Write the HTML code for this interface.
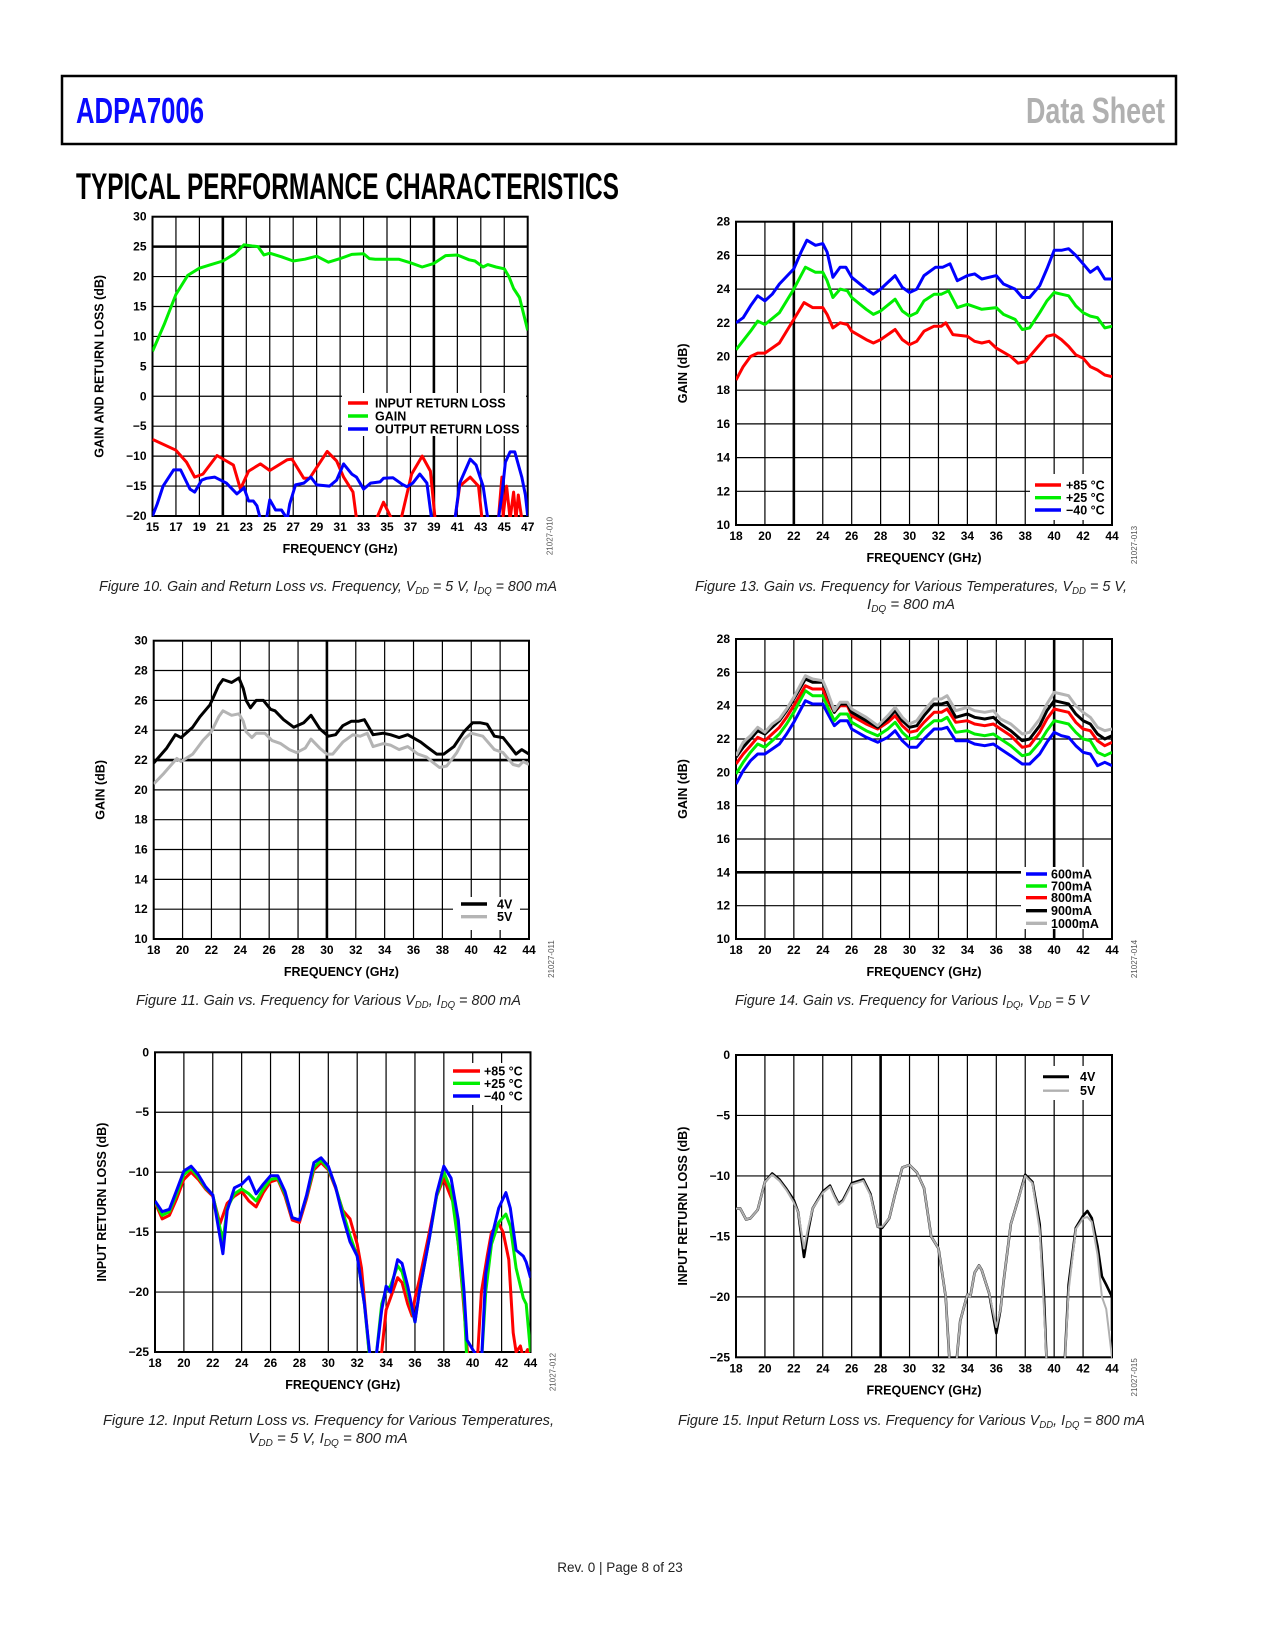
<!DOCTYPE html>
<html><head><meta charset="utf-8"><title>ADPA7006 Typical Performance Characteristics</title>
<style>
html,body{margin:0;padding:0;background:#fff;}
svg{display:block;font-family:"Liberation Sans",sans-serif;}
.tk{font-size:12px;font-weight:bold;fill:#000;}
.at{font-size:12.5px;font-weight:bold;fill:#000;}
.lg{font-size:12.5px;font-weight:bold;fill:#000;}
.cap{font-size:15px;font-style:italic;fill:#222;}
.fid{font-size:8px;fill:#555;}
</style></head>
<body>
<svg id="page" width="1275" height="1650" viewBox="0 0 1275 1650">
<rect x="62" y="76" width="1114" height="68" fill="none" stroke="#000" stroke-width="2.5"/>
<text x="76" y="123" font-size="36" font-weight="bold" fill="#0a0aff" textLength="128" lengthAdjust="spacingAndGlyphs">ADPA7006</text>
<text x="1026" y="123" font-size="36" font-weight="bold" fill="#b0b0b0" textLength="139" lengthAdjust="spacingAndGlyphs">Data Sheet</text>
<text x="76" y="199" font-size="37" font-weight="bold" fill="#000" textLength="543" lengthAdjust="spacingAndGlyphs">TYPICAL PERFORMANCE CHARACTERISTICS</text>

<text class="cap" x="99" y="591" textLength="458" lengthAdjust="spacingAndGlyphs">Figure 10. Gain and Return Loss vs. Frequency, V<tspan font-size="10" dy="3">DD</tspan><tspan dy="-3"> = 5 V, I</tspan><tspan font-size="10" dy="3">DQ</tspan><tspan dy="-3"> = 800 mA</tspan></text>
<text class="cap" x="695" y="591" textLength="432" lengthAdjust="spacingAndGlyphs">Figure 13. Gain vs. Frequency for Various Temperatures, V<tspan font-size="10" dy="3">DD</tspan><tspan dy="-3"> = 5 V,</tspan></text>
<text class="cap" x="911" y="609" text-anchor="middle">I<tspan font-size="10" dy="3">DQ</tspan><tspan dy="-3"> = 800 mA</tspan></text>
<text class="cap" x="136" y="1005" textLength="385" lengthAdjust="spacingAndGlyphs">Figure 11. Gain vs. Frequency for Various V<tspan font-size="10" dy="3">DD</tspan><tspan dy="-3">, I</tspan><tspan font-size="10" dy="3">DQ</tspan><tspan dy="-3"> = 800 mA</tspan></text>
<text class="cap" x="735" y="1005" textLength="354" lengthAdjust="spacingAndGlyphs">Figure 14. Gain vs. Frequency for Various I<tspan font-size="10" dy="3">DQ</tspan><tspan dy="-3">, V</tspan><tspan font-size="10" dy="3">DD</tspan><tspan dy="-3"> = 5 V</tspan></text>
<text class="cap" x="103" y="1425" textLength="451" lengthAdjust="spacingAndGlyphs">Figure 12. Input Return Loss vs. Frequency for Various Temperatures,</text>
<text class="cap" x="328" y="1443" text-anchor="middle">V<tspan font-size="10" dy="3">DD</tspan><tspan dy="-3"> = 5 V, I</tspan><tspan font-size="10" dy="3">DQ</tspan><tspan dy="-3"> = 800 mA</tspan></text>
<text class="cap" x="678" y="1425" textLength="467" lengthAdjust="spacingAndGlyphs">Figure 15. Input Return Loss vs. Frequency for Various V<tspan font-size="10" dy="3">DD</tspan><tspan dy="-3">, I</tspan><tspan font-size="10" dy="3">DQ</tspan><tspan dy="-3"> = 800 mA</tspan></text>
<text x="620" y="1572" font-size="13.5" fill="#222" text-anchor="middle">Rev. 0 | Page 8 of 23</text>
</svg>
<script>
// ---------- Figure 10 data ----------
const xt10 = [15,17,19,21,23,25,27,29,31,33,35,37,39,41,43,45,47];
const yt10 = [-20,-15,-10,-5,0,5,10,15,20,25,30];
const f10Gain = [15,16,17,18,19,20,21,22,22.8,23.5,24,24.5,25,26,27,28,29,30,31,32,33,33.5,34,35,36,37,38,39,40,41,42,42.5,43.2,43.6,44.3,45,45.4,45.8,46.3,47];
const v10Gain = [7.5,12,17,20.2,21.4,22,22.6,23.8,25.3,25.1,25,23.6,23.9,23.3,22.6,22.9,23.4,22.4,23,23.7,23.8,23,22.9,22.9,22.9,22.3,21.6,22.2,23.5,23.6,22.8,22.6,21.6,22,21.6,21.3,20,18,16.5,11];
const f10In = [15,17,17.9,18.6,19.3,20.5,21.9,22.5,23.2,24.2,25,26.5,26.9,27.9,28.4,29.9,30.7,31.3,32.1,32.4,32.7,33.8,34.1,34.7,35.4,36.2,37.1,38,38.7,39.1,39.4,40.5,40.8,41.2,42.1,42.8,43.1,43.4,44.2,44.5,44.8,44.9,45.2,45.5,45.8,46,46.2,46.5,46.8];
const v10In = [-7.2,-9,-11,-13.5,-13,-9.9,-11.5,-15.5,-12.5,-11.3,-12.4,-10.6,-10.5,-13.7,-13.7,-9.2,-10.8,-13.5,-16,-20.5,-23,-23,-20.5,-17.7,-20.5,-20.5,-13,-10,-12.5,-20.5,-23,-23,-20.5,-15,-13.5,-15,-20.5,-23,-23,-20.5,-13.5,-20,-15,-20.5,-16,-20.5,-16.5,-20.5,-23];
const f10Out = [15,15.4,15.9,16.8,17.4,18.2,18.6,19.2,19.6,20.3,21.3,22.2,22.8,23.2,23.6,23.9,24.2,24.5,25,25.5,26,26.5,26.7,27.2,27.9,28.5,29,30.1,30.7,31.3,32,32.4,33,33.6,34.4,34.7,35.5,36.3,36.7,37.2,37.8,38.4,38.8,39.1,40.5,40.8,41.2,42.1,42.6,43.2,43.6,43.9,44.2,44.5,44.8,45.1,45.5,45.9,46.5,46.8,47];
const v10Out = [-20,-18,-15,-12.3,-12.3,-15.5,-16,-14,-13.7,-13.5,-14.5,-16.3,-15.3,-17.5,-17.5,-18.3,-20.5,-23,-17.3,-19,-19,-20.5,-18,-14.8,-14.5,-13.5,-14.8,-15,-14,-11.3,-13,-13.5,-15.5,-14.5,-14.3,-13.7,-13.6,-14.7,-15.1,-14.5,-13,-14.5,-20.5,-23,-23,-20.5,-14.5,-10.5,-11.5,-15,-20.5,-23,-23,-20.5,-16.5,-11,-9.3,-9.3,-13.5,-16.5,-20];

// ---------- Figure 13 data ----------
const xt13 = [18,20,22,24,26,28,30,32,34,36,38,40,42,44];
const yt13 = [10,12,14,16,18,20,22,24,26,28];
const f13Blue = [18,18.5,19,19.5,20,20.5,21,22,22.5,22.9,23.5,24,24.3,24.7,25.2,25.6,26,27,27.5,28,28.5,29,29.5,30,30.5,31,31.8,32.3,32.8,33.3,34,34.5,35,36,36.5,37.3,37.8,38.3,39,39.5,40,40.5,41,41.5,42,42.5,43,43.5,44];
const v13Blue = [22,22.3,23,23.6,23.3,23.7,24.3,25.2,26.2,26.9,26.6,26.7,26.2,24.7,25.3,25.3,24.7,24,23.7,24,24.4,24.8,24.1,23.8,24,24.8,25.3,25.3,25.5,24.5,24.8,24.9,24.6,24.8,24.3,24,23.5,23.5,24.2,25.2,26.3,26.3,26.4,26,25.5,25,25.3,24.6,24.6];
const f13Green = [18,19,19.5,20,21,22,22.8,23.5,24,24.3,24.7,25.2,25.7,26,27,27.5,28,29,29.5,30,30.5,31,31.7,32.2,32.7,33.3,34,35,36,36.5,37.3,37.8,38.3,39,39.5,40,40.5,41,41.5,42,42.5,43,43.5,44];
const v13Green = [20.4,21.5,22.1,21.9,22.6,24,25.3,25,25,24.5,23.5,24,23.9,23.5,22.8,22.5,22.7,23.4,22.7,22.4,22.6,23.3,23.7,23.7,23.9,22.9,23.1,22.8,22.9,22.5,22.2,21.6,21.7,22.6,23.3,23.8,23.7,23.6,23,22.6,22.4,22.3,21.7,21.8];
const f13Red = [18,18.5,19,19.5,20,21,22,22.7,23.3,24,24.3,24.7,25.2,25.7,26,27,27.5,28,29,29.5,30,30.5,31,31.7,32.2,32.5,33,34,34.5,35,35.5,36,37,37.5,38,39,39.5,40,40.5,41,41.5,42,42.5,43,43.5,44];
const v13Red = [18.6,19.4,20,20.2,20.2,20.8,22.2,23.2,22.9,22.9,22.5,21.7,22,21.9,21.5,21,20.8,21,21.6,21,20.7,20.9,21.5,21.8,21.8,22,21.3,21.2,20.9,20.8,20.9,20.5,20,19.6,19.7,20.7,21.2,21.3,21,20.6,20.1,19.9,19.4,19.2,18.9,18.8];

// ---------- Figure 11 data ----------
const xt11 = [18,20,22,24,26,28,30,32,34,36,38,40,42,44];
const yt11 = [10,12,14,16,18,20,22,24,26,28,30];
const f11Black = [18,18.9,19.5,19.9,20.7,21.2,21.9,22.5,22.8,23.4,23.9,24.2,24.4,24.7,25.1,25.6,26.1,26.4,27,27.7,28.4,28.9,29.5,30.1,30.6,31.1,31.7,32.2,32.6,33.2,33.9,34.4,35,35.6,36.5,36.9,37.6,38.1,38.8,39.5,40.1,40.6,41.1,41.6,42.2,42.7,43.1,43.5,44];
const v11Black = [21.8,22.8,23.7,23.5,24.2,24.9,25.7,27,27.4,27.2,27.5,26.8,26,25.5,26,26,25.4,25.3,24.7,24.2,24.5,25,24.1,23.6,23.7,24.3,24.6,24.6,24.7,23.7,23.8,23.7,23.5,23.7,23.2,22.9,22.4,22.4,22.9,23.9,24.5,24.5,24.4,23.6,23.5,22.9,22.4,22.7,22.4];
const f11Gray = [18,18.7,19.6,19.9,20.7,21.4,22,22.5,22.8,23.4,23.9,24.2,24.4,24.8,25.1,25.7,26.2,26.8,27.4,27.9,28.5,28.9,29.5,30,30.4,31.1,31.8,32.3,32.8,33.2,33.9,34.4,35,35.6,36.3,36.9,37.4,37.8,38.3,39,39.5,40,40.8,41.6,42.2,42.9,43.3,43.6,44];
const v11Gray = [20.4,21.1,22.1,21.9,22.4,23.3,23.9,24.9,25.3,25,25.1,24.6,23.9,23.5,23.8,23.8,23.3,23.1,22.7,22.5,22.8,23.4,22.8,22.4,22.4,23.2,23.7,23.6,23.8,22.9,23.1,23,22.7,22.9,22.4,22.2,21.8,21.5,21.6,22.5,23.4,23.8,23.6,22.7,22.5,21.7,21.6,21.9,21.7];

// ---------- Figure 14 data ----------
const xt14 = [18,20,22,24,26,28,30,32,34,36,38,40,42,44];
const yt14 = [10,12,14,16,18,20,22,24,26,28];
const f14 = [18,18.5,19,19.5,20,20.5,21,21.5,22,22.8,23.3,24,24.3,24.8,25.2,25.7,26,27,27.8,28.5,29,29.5,30,30.5,31,31.7,32.2,32.6,33.2,34,34.5,35.2,35.8,36.3,37,37.8,38.3,39,39.5,40,40.5,41,41.5,42,42.5,43,43.5,44];
const v14Blue = [19.3,20.1,20.7,21.1,21.1,21.4,21.7,22.3,23.0,24.3,24.1,24.1,23.6,22.8,23.1,23.1,22.6,22.1,21.8,22.1,22.5,21.9,21.5,21.5,22.0,22.6,22.6,22.7,21.9,21.9,21.7,21.6,21.7,21.4,21.0,20.5,20.5,21.1,21.8,22.4,22.2,22.1,21.6,21.2,21.1,20.4,20.6,20.4];
const v14Green = [19.9,20.6,21.2,21.7,21.5,21.9,22.3,22.9,23.6,24.9,24.6,24.6,24.0,23.1,23.5,23.5,23.0,22.5,22.2,22.6,23.0,22.4,22.0,22.1,22.6,23.1,23.1,23.3,22.4,22.5,22.3,22.2,22.3,22.0,21.6,21.0,21.1,21.8,22.5,23.1,23.0,22.9,22.4,22.0,21.9,21.2,21.0,21.2];
const v14Red = [20.5,21.1,21.6,22.1,21.9,22.3,22.7,23.3,24.0,25.2,25.0,25.0,24.4,23.6,24.0,24.0,23.4,22.9,22.6,23.0,23.4,22.8,22.4,22.5,23.0,23.6,23.6,23.8,23.0,23.1,22.9,22.8,22.9,22.6,22.2,21.5,21.6,22.4,23.2,23.8,23.7,23.6,23.0,22.6,22.5,21.9,21.6,21.8];
const v14Black = [20.9,21.5,22.0,22.5,22.3,22.7,23.1,23.7,24.4,25.6,25.4,25.4,24.8,23.6,24.1,24.1,23.6,23.1,22.7,23.2,23.7,23.1,22.7,22.8,23.4,24.1,24.1,24.2,23.3,23.5,23.3,23.2,23.3,22.9,22.5,21.9,22.0,22.8,23.7,24.3,24.2,24.1,23.5,23.1,22.9,22.3,22.0,22.2];
const v14Gray = [21.0,21.8,22.2,22.7,22.4,22.9,23.2,23.8,24.5,25.8,25.6,25.5,24.9,23.7,24.2,24.2,23.8,23.3,22.8,23.4,23.9,23.3,22.9,23.1,23.7,24.4,24.4,24.6,23.7,23.9,23.7,23.6,23.7,23.2,22.9,22.3,22.4,23.2,24.1,24.8,24.7,24.6,24.0,23.6,23.3,22.7,22.5,22.6];

// ---------- Figure 12 data ----------
const xt12 = [18,20,22,24,26,28,30,32,34,36,38,40,42,44];
const yt12 = [-25,-20,-15,-10,-5,0];
const f12Red = [18,18.5,19,19.5,20,20.5,21,21.5,22,22.5,23,23.5,24,24.5,25,25.5,26,26.5,27,27.5,28,28.5,29,29.5,30,30.5,31,31.5,32,32.3,32.6,32.9,33.4,33.7,34,34.3,34.8,35.1,35.5,35.8,36,36.3,37,37.5,38,38.3,38.7,39,39.3,39.7,40.3,40.6,41,41.3,41.8,42.1,42.5,42.8,43,43.3,43.5,43.8,44];
const v12Red = [-12.5,-13.9,-13.6,-12.2,-10.6,-10,-10.6,-11.4,-12,-14.3,-12.6,-12,-11.6,-12.4,-12.9,-11.7,-10.8,-10.6,-12,-14,-14.2,-12.2,-9.8,-9.2,-9.8,-11.3,-13.2,-13.9,-16,-18,-22,-26,-26,-25,-21.5,-20.5,-18.8,-19.2,-21,-22,-20.5,-19,-15,-12,-10.5,-11.5,-12.7,-16,-20,-26,-26,-20,-17,-15,-14.3,-15,-17.3,-23.4,-25,-24.5,-25.5,-24.8,-26];
const f12Green = [18,18.5,19,19.5,20,20.5,21,21.5,22,22.7,23,23.5,24,24.5,25,25.5,26,26.5,27,27.5,28,28.5,29,29.5,30,30.5,31,31.5,32,32.5,32.9,33.3,33.7,34,34.3,34.8,35.1,35.5,36,36.3,37,37.5,38,38.5,39,39.4,39.6,40.6,40.9,41.3,41.8,42.3,42.6,43,43.5,43.7,44];
const v12Green = [-12.4,-13.6,-13.3,-11.8,-10.2,-9.7,-10.4,-11.3,-11.9,-15.8,-13,-11.8,-11.4,-11.8,-12.4,-11.4,-10.6,-10.5,-11.8,-13.8,-14,-12,-9.6,-9,-9.7,-11.2,-13.3,-15.3,-17,-21,-26,-25.5,-21,-19.8,-19.5,-17.8,-18.3,-20,-22.5,-20,-15.5,-12,-10,-11.5,-16,-21,-26,-26,-20,-16,-14.2,-13.5,-14.5,-18,-20.5,-21,-25];
const f12Blue = [18,18.5,19,19.5,20,20.5,21,21.5,22,22.7,23,23.5,24,24.5,25,25.5,26,26.5,27,27.5,28,28.5,29,29.5,30,30.5,31,31.5,32,32.5,32.9,33.3,33.7,34,34.3,34.8,35.1,35.5,36,36.3,37,37.5,38,38.5,39,39.4,39.6,40.6,40.9,41.3,41.8,42.3,42.6,43,43.5,43.7,44];
const v12Blue = [-12.4,-13.3,-13.1,-11.5,-9.9,-9.5,-10.2,-11.2,-11.9,-16.8,-13.2,-11.3,-11,-10.4,-11.8,-11,-10.3,-10.3,-11.6,-13.8,-14,-11.9,-9.2,-8.8,-9.5,-11.2,-13.7,-15.8,-17,-21,-25.5,-25.5,-21.5,-19.5,-20,-17.3,-17.6,-19.5,-22.5,-20,-15.5,-11.8,-9.5,-10.5,-14,-20,-24,-26,-18.5,-15.5,-13,-11.7,-13,-16.5,-17,-17.5,-18.8];

// ---------- Figure 15 data ----------
const xt15 = [18,20,22,24,26,28,30,32,34,36,38,40,42,44];
const yt15 = [-25,-20,-15,-10,-5,0];
const f15 = [18,18.3,18.7,19,19.5,20,20.5,21,21.5,22,22.3,22.7,23,23.3,24,24.5,24.8,25.1,25.4,26,26.8,27.3,27.8,28.1,28.6,29,29.5,30,30.5,31,31.5,32,32.5,32.8,33.2,33.5,34,34.2,34.5,34.8,35,35.5,36,36.3,36.5,37,37.5,38,38.5,39,39.3,39.5,40.7,41,41.5,42,42.3,42.6,43,43.3,43.6,44,44.01];
const v15Black = [-12.7,-12.7,-13.6,-13.5,-12.8,-10.5,-9.8,-10.3,-11.1,-12,-13,-16.7,-14.5,-12.7,-11.3,-10.8,-11.6,-12.3,-12,-10.6,-10.3,-11.5,-14.2,-14.3,-13.5,-11.5,-9.3,-9.1,-9.7,-11,-15,-16,-20,-26,-26,-22,-19.8,-20,-18,-17.4,-17.8,-19.7,-23,-21,-18.8,-14,-12,-9.9,-10.5,-14,-20,-26,-26,-19,-14.3,-13.3,-12.9,-13.5,-15.8,-18.3,-19,-20,-22.8];
const v15Gray = [-12.7,-12.7,-13.6,-13.5,-12.8,-10.5,-9.9,-10.4,-11.2,-12.2,-13,-16,-14.2,-12.7,-11.4,-10.9,-11.7,-12.4,-12.1,-10.7,-10.4,-11.6,-14.2,-14.2,-13.5,-11.5,-9.3,-9.1,-9.7,-11,-15,-16,-20,-26,-26,-22,-19.8,-20,-18,-17.4,-17.8,-19.7,-22.5,-21,-18.8,-14,-12,-10,-10.6,-14.5,-21,-26,-26,-19.5,-14.4,-13.5,-13.4,-13.8,-16.5,-20,-21,-25,-25];

const NS = 'http://www.w3.org/2000/svg';
const svg = document.getElementById('page');

function mk(tag, attrs, parent) {
  const el = document.createElementNS(NS, tag);
  for (const k in attrs) el.setAttribute(k, attrs[k]);
  (parent || svg).appendChild(el);
  return el;
}

function drawChart(c) {
  const g = mk('g', {});
  
  
  const sx = f => c.L + (f - c.xMin) / (c.xMax - c.xMin) * (c.R - c.L);
  const sy = v => c.B - (v - c.yMin) / (c.yMax - c.yMin) * (c.B - c.T);
  c.xTicks.forEach(t => {
    const thick = c.thickX.indexOf(t) >= 0;
    const ln = mk('line', {x1: sx(t), x2: sx(t), y1: c.T, y2: c.B, stroke: '#000', 'stroke-width': thick ? 2.6 : 1.2}, g);
    
    
    const tx = mk('text', {x: sx(t), y: c.B + 15, 'text-anchor': 'middle', class: 'tk'}, g);
    tx.textContent = String(t).replace('-', '\u2212');
    
    
  });
  c.yTicks.forEach(t => {
    const thick = c.thickY.indexOf(t) >= 0;
    const ln = mk('line', {x1: c.L, x2: c.R, y1: sy(t), y2: sy(t), stroke: '#000', 'stroke-width': thick ? 2.6 : 1.2}, g);
    
    
    const tx = mk('text', {x: c.L - 6, y: sy(t) + 4, 'text-anchor': 'end', class: 'tk'}, g);
    tx.textContent = String(t).replace('-', '\u2212');
    
    
  });
  const lb = mk('rect', {x: c.leg.x, y: c.leg.y, width: c.leg.w, height: c.leg.h, fill: '#fff'}, g);
  
  
  const fr = mk('rect', {x: c.L, y: c.T, width: c.R - c.L, height: c.B - c.T, fill: 'none', stroke: '#000', 'stroke-width': 2}, g);
  
  
  const cid = c.name + '-clip';
  const cp = mk('clipPath', {id: cid}, g);
  mk('rect', {x: c.L, y: c.T - 2, width: c.R - c.L, height: c.B - c.T + 3}, cp);
  c.series.forEach(s => {
    const pts = s.f.map((f, i) => sx(f).toFixed(1) + ',' + sy(s.v[i]).toFixed(1)).join(' ');
    const pl = mk('polyline', {points: pts, fill: 'none', stroke: s.color, 'stroke-width': s.w || 3, 'stroke-linejoin': 'round', 'clip-path': 'url(#' + cid + ')'}, g);
    
    
  });
  c.series.forEach((s, i) => {
    const ly = c.leg.ys[i];
    const ll = mk('line', {x1: c.leg.lx1, x2: c.leg.lx2, y1: ly, y2: ly, stroke: s.color, 'stroke-width': (s.w || 3) + 0.4}, g);
    
    
    const lt = mk('text', {x: c.leg.tx, y: ly + 4.5, class: 'lg'}, g);
    lt.textContent = s.label;
    
    
  });
  const yc = (c.T + c.B) / 2, xt = c.L - 49;
  const yt = mk('text', {x: xt, y: yc, 'text-anchor': 'middle', class: 'at', transform: 'rotate(-90 ' + xt + ' ' + yc + ')'}, g);
  yt.textContent = c.yTitle;
  
  
  const xtt = mk('text', {x: (c.L + c.R) / 2, y: c.B + 37, 'text-anchor': 'middle', class: 'at'}, g);
  xtt.textContent = 'FREQUENCY (GHz)';
  
  
  const fx = c.R + 25, fy = c.B + 20;
  const fid = mk('text', {x: fx, y: fy, 'text-anchor': 'middle', class: 'fid', transform: 'rotate(-90 ' + fx + ' ' + fy + ')'}, g);
  fid.textContent = c.fid;
  
  
}

drawChart({name: 'figure-10-chart', L: 152.5, R: 527.7, T: 216.7, B: 516, xMin: 15, xMax: 47, yMin: -20, yMax: 30,
  xTicks: xt10, yTicks: yt10, thickX: [21, 39], thickY: [25], yTitle: 'GAIN AND RETURN LOSS (dB)', fid: '21027-010',
  leg: {x: 342, y: 393, w: 184, h: 43, lx1: 348, lx2: 368, tx: 375, ys: [403, 416, 429]},
  series: [
    {name: 'input-return-loss-line', label: 'INPUT RETURN LOSS', color: '#ff0000', f: f10In, v: v10In},
    {name: 'gain-line', label: 'GAIN', color: '#00ee00', f: f10Gain, v: v10Gain},
    {name: 'output-return-loss-line', label: 'OUTPUT RETURN LOSS', color: '#0000ff', f: f10Out, v: v10Out}]});

drawChart({name: 'figure-13-chart', L: 736, R: 1112, T: 221.7, B: 525, xMin: 18, xMax: 44, yMin: 10, yMax: 28,
  xTicks: xt13, yTicks: yt13, thickX: [22], thickY: [], yTitle: 'GAIN (dB)', fid: '21027-013',
  leg: {x: 1030, y: 474, w: 81, h: 46, lx1: 1035, lx2: 1061, tx: 1066, ys: [485, 497.7, 510]},
  series: [
    {name: 'plus-85c-line', label: '+85 \u00B0C', color: '#ff0000', f: f13Red, v: v13Red},
    {name: 'plus-25c-line', label: '+25 \u00B0C', color: '#00ee00', f: f13Green, v: v13Green},
    {name: 'minus-40c-line', label: '\u221240 \u00B0C', color: '#0000ff', f: f13Blue, v: v13Blue}]});

drawChart({name: 'figure-11-chart', L: 153.7, R: 529, T: 640.7, B: 939, xMin: 18, xMax: 44, yMin: 10, yMax: 30,
  xTicks: xt11, yTicks: yt11, thickX: [30], thickY: [22], yTitle: 'GAIN (dB)', fid: '21027-011',
  leg: {x: 453, y: 897, w: 67, h: 33, lx1: 461, lx2: 487, tx: 497, ys: [904, 916.7]},
  series: [
    {name: '4v-line', label: '4V', color: '#000000', f: f11Black, v: v11Black},
    {name: '5v-line', label: '5V', color: '#b4b4b4', f: f11Gray, v: v11Gray}]});

drawChart({name: 'figure-14-chart', L: 736, R: 1112, T: 639, B: 939, xMin: 18, xMax: 44, yMin: 10, yMax: 28,
  xTicks: xt14, yTicks: yt14, thickX: [40], thickY: [14], yTitle: 'GAIN (dB)', fid: '21027-014',
  leg: {x: 1021, y: 867, w: 90, h: 62, lx1: 1026, lx2: 1047, tx: 1051, ys: [874, 886, 897.7, 910.7, 923.3]},
  series: [
    {name: '600ma-line', label: '600mA', color: '#0000ff', f: f14, v: v14Blue},
    {name: '700ma-line', label: '700mA', color: '#00ee00', f: f14, v: v14Green},
    {name: '800ma-line', label: '800mA', color: '#ff0000', f: f14, v: v14Red},
    {name: '900ma-line', label: '900mA', color: '#000000', f: f14, v: v14Black},
    {name: '1000ma-line', label: '1000mA', color: '#b4b4b4', f: f14, v: v14Gray}]});

drawChart({name: 'figure-12-chart', L: 155, R: 530.5, T: 1052.3, B: 1352, xMin: 18, xMax: 44, yMin: -25, yMax: 0,
  xTicks: xt12, yTicks: yt12, thickX: [], thickY: [], yTitle: 'INPUT RETURN LOSS (dB)', fid: '21027-012',
  leg: {x: 447, y: 1063, w: 74, h: 42, lx1: 453, lx2: 480, tx: 484, ys: [1071, 1083.3, 1096]},
  series: [
    {name: 'plus-85c-line', label: '+85 \u00B0C', color: '#ff0000', f: f12Red, v: v12Red},
    {name: 'plus-25c-line', label: '+25 \u00B0C', color: '#00ee00', f: f12Green, v: v12Green},
    {name: 'minus-40c-line', label: '\u221240 \u00B0C', color: '#0000ff', f: f12Blue, v: v12Blue}]});

drawChart({name: 'figure-15-chart', L: 736, R: 1112, T: 1055, B: 1357.3, xMin: 18, xMax: 44, yMin: -25, yMax: 0,
  xTicks: xt15, yTicks: yt15, thickX: [28], thickY: [], yTitle: 'INPUT RETURN LOSS (dB)', fid: '21027-015',
  leg: {x: 1036, y: 1066, w: 60, h: 34, lx1: 1043, lx2: 1069, tx: 1080, ys: [1076.7, 1090.7]},
  series: [
    {name: '4v-line', label: '4V', color: '#000000', w: 2.6, f: f15, v: v15Black},
    {name: '5v-line', label: '5V', color: '#b0b0b0', w: 2, f: f15, v: v15Gray}]});
</script>
</body></html>
